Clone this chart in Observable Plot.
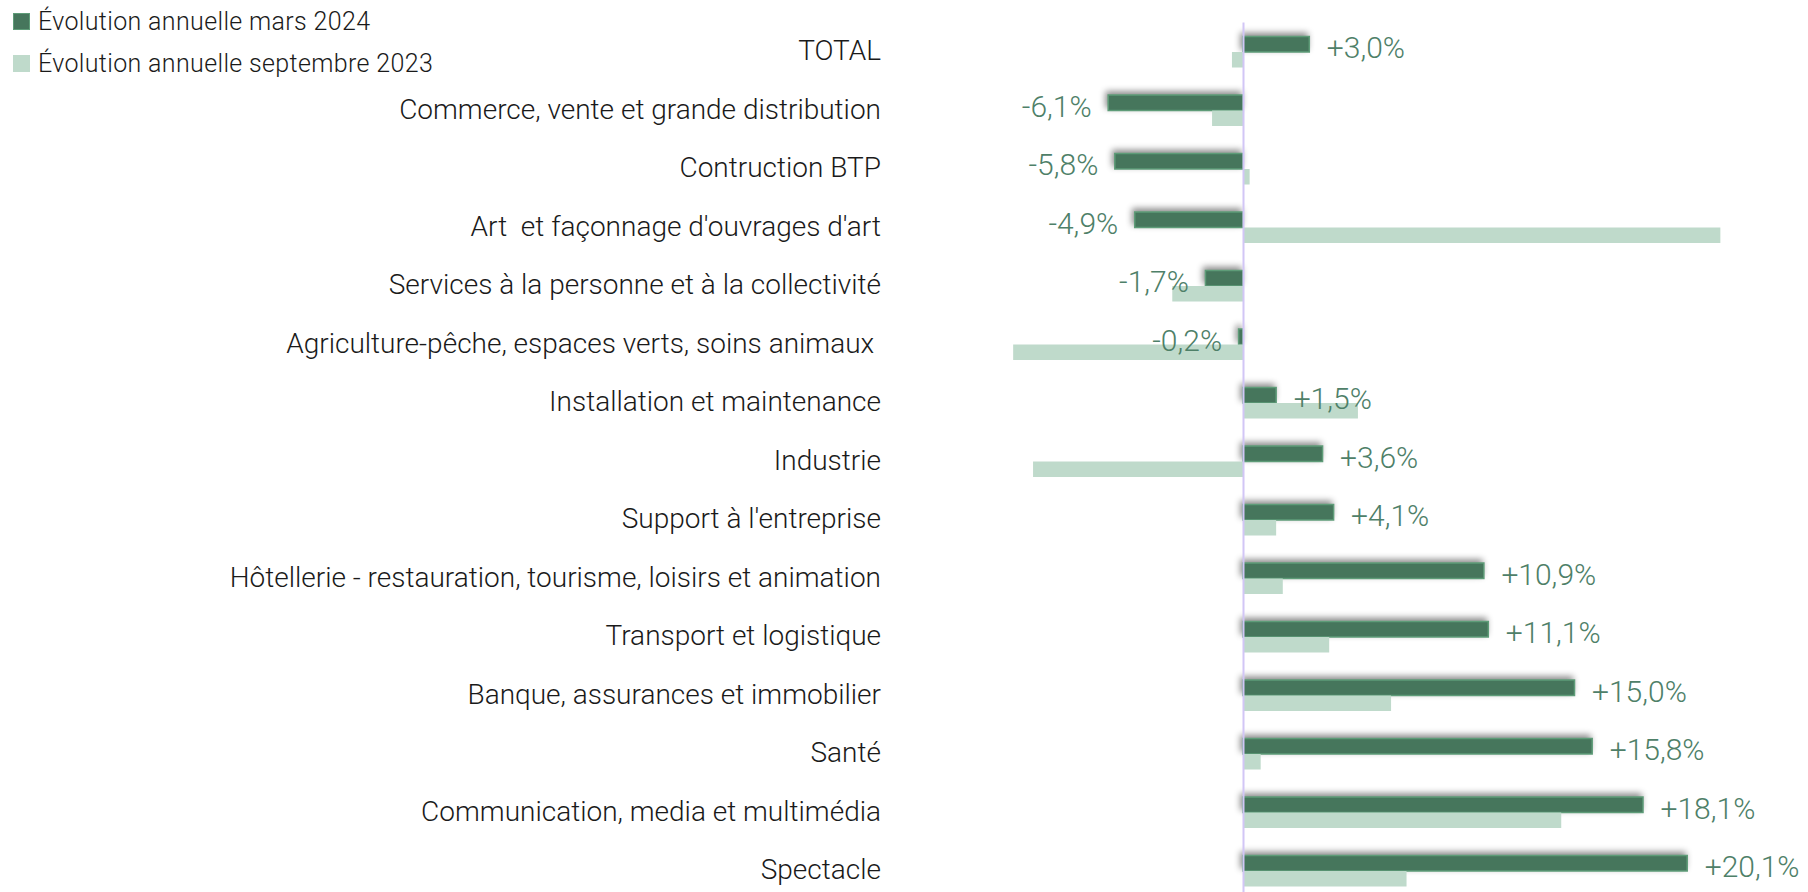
<!DOCTYPE html>
<html>
<head>
<meta charset="utf-8">
<script src="https://cdn.jsdelivr.net/npm/d3@7"></script>
<script src="https://cdn.jsdelivr.net/npm/@observablehq/plot@0.6"></script>
<style>
  html, body { margin: 0; padding: 0; background: #fff; }
  #wrap { position: relative; width: 1808px; height: 892px; }
  #legend { position: absolute; left: 13px; top: 0; font-family: Roboto, sans-serif; font-weight: 300; font-size: 25px; letter-spacing: 0.35px; color: #1a1a1a; }
  .item { position: absolute; white-space: nowrap; display: flex; align-items: center; }
  .sw { width: 17px; height: 17px; margin-right: 8px; box-sizing: border-box; }
  svg text { white-space: pre; }
</style>
</head>
<body>
<div id="wrap">
  <div id="chart"></div>
  <div id="legend"></div>
</div>
<script>
const categories = [
  "TOTAL",
  "Commerce, vente et grande distribution",
  "Contruction BTP",
  "Art  et façonnage d'ouvrages d'art",
  "Services à la personne et à la collectivité",
  "Agriculture-pêche, espaces verts, soins animaux ",
  "Installation et maintenance",
  "Industrie",
  "Support à l'entreprise",
  "Hôtellerie - restauration, tourisme, loisirs et animation",
  "Transport et logistique",
  "Banque, assurances et immobilier",
  "Santé",
  "Communication, media et multimédia",
  "Spectacle"
];
const mars2024 = [3.0, -6.1, -5.8, -4.9, -1.7, -0.2, 1.5, 3.6, 4.1, 10.9, 11.1, 15.0, 15.8, 18.1, 20.1];
const sept2023 = [-0.5, -1.4, 0.3, 21.6, -3.2, -10.4, 5.2, -9.5, 1.5, 1.8, 3.9, 6.7, 0.8, 14.4, 7.4];
const seriesNames = ["Évolution annuelle mars 2024", "Évolution annuelle septembre 2023"];

const darkFill = "#46765C", darkStroke = "#5E9C78", lightFill = "#BFDACB";
const rows = categories.map((c, i) => ({cat: c, mars: mars2024[i], sept: sept2023[i]}));
const fmt = v => (v > 0 ? "+" : "") + v.toFixed(1).replace(".", ",") + "%";

const W = 1808, H = 892;
const mt = 36.5, mb = 5.5, pin = 0.47;
const step = (H - mt - mb) / (categories.length - pin);
const bw = step * (1 - pin);
const font = "Roboto, 'Open Sans', sans-serif";

const chart = Plot.plot({
  width: W,
  height: H,
  marginTop: mt,
  marginBottom: mb,
  marginLeft: 911.5,
  marginRight: 12.5,
  style: {fontFamily: font, fontWeight: 300, background: "white"},
  x: {domain: [-15, 25], axis: null},
  y: {domain: categories, paddingInner: pin, paddingOuter: 0, round: false, axis: null},
  marks: [
    Plot.barX(rows, {x: "mars", y: "cat", fill: darkFill, stroke: darkStroke, strokeWidth: 1.5, insetBottom: bw / 2}),
    Plot.barX(rows, {x: "sept", y: "cat", fill: lightFill, insetTop: bw / 2}),
    Plot.ruleX([0], {stroke: "#D2C6F6", strokeWidth: 2, insetTop: -14, insetBottom: -6}),
    Plot.axisY({label: null, tickSize: 0, tickPadding: 31, fontSize: 28, fontWeight: 300, fill: "#1a1a1a", dy: -1}),
    Plot.text(rows, {filter: d => d.mars >= 0, x: "mars", y: "cat", text: d => fmt(d.mars), textAnchor: "start", dx: 17, dy: -4, fontSize: 30, fontWeight: 300, fill: "#4E8068"}),
    Plot.text(rows, {filter: d => d.mars < 0, x: "mars", y: "cat", text: d => fmt(d.mars), textAnchor: "end", dx: -17, dy: -4, fontSize: 30, fontWeight: 300, fill: "#4E8068"})
  ]
});
document.getElementById("chart").appendChild(chart);

// soft shadow behind the dark (mars 2024) bars
d3.select(chart).selectAll("g")
  .filter(function() { return (this.getAttribute("fill") || "").toUpperCase() === darkFill.toUpperCase(); })
  .style("filter", "drop-shadow(-2px -3px 3px rgba(0,0,0,0.45))");

const legend = document.getElementById("legend");
[[darkFill, darkStroke, 12], [lightFill, lightFill, 54]].forEach(([f, s, top], i) => {
  const it = document.createElement("div");
  it.className = "item";
  it.style.top = (top - 5) + "px";
  it.style.left = "0px";
  it.innerHTML = `<div class="sw" style="background:${f};border:1.5px solid ${s}"></div><span>${seriesNames[i]}</span>`;
  legend.appendChild(it);
});
</script>
</body>
</html>
